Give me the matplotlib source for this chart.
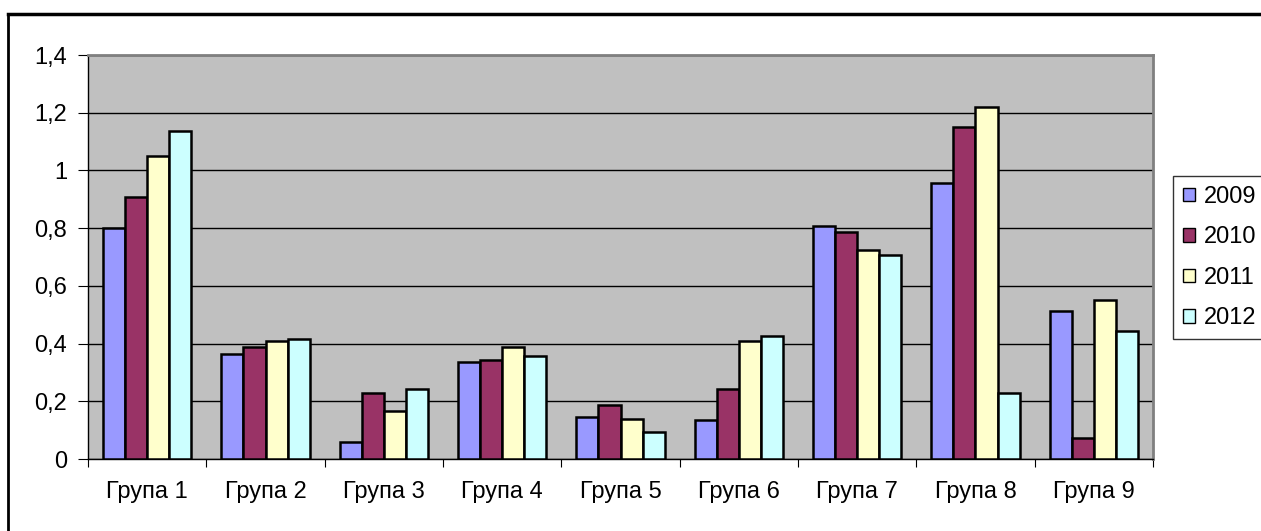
import numpy as np
import matplotlib.pyplot as plt
from matplotlib.lines import Line2D

plt.rcParams['font.family'] = ['Liberation Sans', 'DejaVu Sans']

groups = ["Група 1", "Група 2", "Група 3", "Група 4", "Група 5",
          "Група 6", "Група 7", "Група 8", "Група 9"]
years = ["2009", "2010", "2011", "2012"]
v2009 = [0.80, 0.363, 0.059, 0.336, 0.147, 0.135, 0.807, 0.955, 0.512]
v2010 = [0.909, 0.389, 0.229, 0.343, 0.187, 0.243, 0.788, 1.150, 0.073]
v2011 = [1.05, 0.41, 0.167, 0.389, 0.14, 0.41, 0.724, 1.219, 0.551]
v2012 = [1.136, 0.417, 0.242, 0.357, 0.094, 0.425, 0.707, 0.228, 0.445]
yticks = [0, 0.2, 0.4, 0.6, 0.8, 1, 1.2, 1.4]
ytick_labels = ["0", "0,2", "0,4", "0,6", "0,8", "1", "1,2", "1,4"]

colors = ["#9999FF", "#993366", "#FFFFCC", "#CCFFFF"]
fs = 17

W, H = 1261, 531
fig = plt.figure(figsize=(W / 100, H / 100), dpi=100)
ax = fig.add_axes([88 / W, (H - 459) / H, 1065 / W, 404 / H])
ax.set_facecolor("#C0C0C0")

x = np.arange(len(groups))
bw = 0.186
series = [v2009, v2010, v2011, v2012]
for i, (vals, c, lab) in enumerate(zip(series, colors, years)):
    ax.bar(x + (i - 1.5) * bw, vals, width=bw, color=c, edgecolor="black",
           linewidth=1.8, label=lab, zorder=3)

ax.set_xlim(-0.5, len(groups) - 0.5)
ax.set_ylim(0, 1.4)
ax.set_yticks(yticks)
ax.set_yticklabels(ytick_labels, fontsize=fs)
ax.yaxis.grid(True, color="black", linewidth=1, zorder=1)
ax.set_axisbelow(True)

ax.set_xticks(np.arange(-0.5, len(groups), 1.0))
ax.set_xticklabels([])
ax.set_xticks(x, minor=True)
ax.set_xticklabels(groups, minor=True, fontsize=fs)
ax.tick_params(axis="x", which="minor", length=0, pad=16)
ax.tick_params(axis="x", which="major", length=6, direction="out", color="black")
ax.tick_params(axis="y", length=7, direction="out", pad=8)

for s in ["left", "bottom"]:
    ax.spines[s].set_color("black")
    ax.spines[s].set_linewidth(1)
for s in ["top", "right"]:
    ax.spines[s].set_color("#808080")
    ax.spines[s].set_linewidth(2)

leg = fig.legend(loc="upper left", bbox_to_anchor=(1173 / W, 1 - 176 / H),
                 fontsize=fs, frameon=True, fancybox=False,
                 handlelength=0.5, handleheight=0.5, handletextpad=0.4,
                 labelspacing=0.78, borderpad=0.42, borderaxespad=0)
leg.get_frame().set_edgecolor("black")
leg.get_frame().set_linewidth(1)
for h in leg.legend_handles:
    h.set_linewidth(1)

# outer frame (partly cut off)
fig.add_artist(Line2D([8 / W, 1], [1 - 14 / H, 1 - 14 / H],
                      transform=fig.transFigure, color="black", lw=2.5))
fig.add_artist(Line2D([8 / W, 8 / W], [0, 1 - 14 / H],
                      transform=fig.transFigure, color="black", lw=2))

fig.savefig("out.png", dpi=100)
